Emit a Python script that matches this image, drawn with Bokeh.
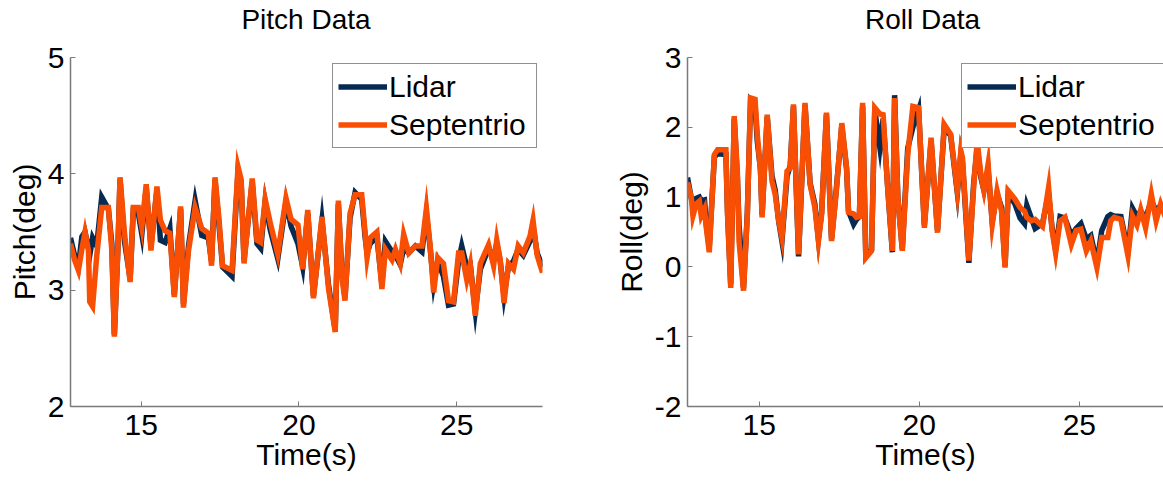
from bokeh.plotting import figure
from bokeh.layouts import row, column
from bokeh.models import Legend, LegendItem, FixedTicker, Range1d, Div
from bokeh.embed import file_html
from bokeh.resources import INLINE

# ---- data -------------------------------------------------------------
pitch_time = [12.76, 12.89, 13.01, 13.12, 13.22, 13.33, 13.37, 13.46, 13.59, 13.75,
              13.96, 14.07, 14.15, 14.26, 14.33, 14.47, 14.65, 14.75, 14.91, 15.02,
              15.16, 15.31, 15.50, 15.61, 15.76, 15.91, 16.05, 16.25, 16.34, 16.50,
              16.71, 16.92, 17.13, 17.23, 17.34, 17.46, 17.58, 17.88, 18.07, 18.17,
              18.26, 18.52, 18.67, 18.79, 18.93, 19.09, 19.33, 19.59, 19.75, 19.97,
              20.12, 20.28, 20.46, 20.73, 20.94, 21.15, 21.25, 21.36, 21.46, 21.62,
              21.78, 21.99, 22.10, 22.16, 22.26, 22.47, 22.63, 22.74, 22.95, 23.06,
              23.21, 23.32, 23.48, 23.69, 23.90, 24.04, 24.16, 24.27, 24.40, 24.58,
              24.74, 24.90, 25.06, 25.16, 25.32, 25.43, 25.59, 25.75, 26.01, 26.17,
              26.27, 26.38, 26.50, 26.64, 26.80, 26.95, 27.11, 27.32, 27.42, 27.55,
              27.72]
pitch_septentrio = [3.40, 3.26, 3.17, 3.35, 3.50, 3.34, 2.90, 2.86, 3.29, 3.71,
                    3.71, 3.34, 2.60, 3.34, 3.97, 3.49, 3.07, 3.71, 3.71, 3.54,
                    3.91, 3.34, 3.89, 3.60, 3.51, 3.49, 2.94, 3.72, 2.85, 3.34,
                    3.71, 3.53, 3.49, 3.21, 3.97, 3.63, 3.21, 3.17, 4.06, 3.95,
                    3.23, 3.96, 3.43, 3.41, 3.78, 3.58, 3.31, 3.79, 3.61, 3.56,
                    3.18, 3.69, 2.93, 3.63, 3.01, 2.64, 3.77, 3.12, 2.91, 3.66,
                    3.82, 3.82, 3.49, 3.28, 3.45, 3.50, 3.01, 3.35, 3.26, 3.35,
                    3.23, 3.48, 3.32, 3.38, 3.38, 3.70, 3.38, 2.98, 3.28, 3.23,
                    2.91, 2.90, 3.32, 3.32, 3.09, 3.22, 2.78, 3.23, 3.39, 3.21,
                    3.43, 3.26, 2.89, 3.23, 3.18, 3.38, 3.32, 3.46, 3.60, 3.30,
                    3.15]
pitch_lidar = [3.45, 3.30, 3.20, 3.46, 3.50, 3.36, 3.30, 3.45, 3.38, 3.80,
               3.70, 3.40, 2.62, 3.34, 3.95, 3.42, 3.10, 3.68, 3.66, 3.48,
               3.88, 3.38, 3.86, 3.43, 3.41, 3.53, 2.96, 3.70, 2.88, 3.38,
               3.77, 3.47, 3.45, 3.25, 3.95, 3.58, 3.20, 3.12, 4.02, 3.92,
               3.26, 3.93, 3.40, 3.36, 3.76, 3.52, 3.27, 3.76, 3.55, 3.40,
               3.20, 3.66, 2.95, 3.60, 3.04, 2.66, 3.74, 3.15, 2.94, 3.62,
               3.84, 3.78, 3.45, 3.32, 3.40, 3.46, 3.05, 3.42, 3.33, 3.30,
               3.22, 3.36, 3.32, 3.38, 3.33, 3.66, 3.36, 3.05, 3.25, 3.12,
               2.87, 2.88, 3.25, 3.38, 3.20, 3.22, 2.82, 3.18, 3.36, 3.28,
               3.40, 3.25, 2.95, 3.20, 3.25, 3.35, 3.30, 3.42, 3.55, 3.32,
               3.20]

roll_time = [12.76, 12.88, 12.93, 13.03, 13.13, 13.19, 13.29, 13.35, 13.44, 13.60,
             13.70, 13.96, 14.01, 14.11, 14.22, 14.32, 14.37, 14.51, 14.63, 14.73,
             14.87, 14.94, 15.04, 15.09, 15.25, 15.40, 15.50, 15.61, 15.71, 15.87,
             15.97, 16.07, 16.23, 16.43, 16.59, 16.74, 16.85, 16.95, 17.10, 17.26,
             17.41, 17.58, 17.73, 17.79, 17.95, 18.04, 18.13, 18.23, 18.33, 18.51,
             18.61, 18.77, 18.87, 19.02, 19.16, 19.23, 19.33, 19.47, 19.64, 19.80,
             19.98, 20.16, 20.37, 20.57, 20.78, 20.98, 21.19, 21.30, 21.35, 21.55,
             21.70, 21.81, 21.93, 22.02, 22.15, 22.28, 22.43, 22.57, 22.68, 22.78,
             22.99, 23.15, 23.29, 23.36, 23.50, 23.62, 23.85, 24.04, 24.15, 24.26,
             24.40, 24.55, 24.75, 24.90, 25.05, 25.22, 25.36, 25.55, 25.70, 25.89,
             25.98, 26.09, 26.30, 26.52, 26.66, 26.80, 26.92, 27.07, 27.25, 27.40,
             27.54, 27.70]
roll_septentrio = [1.21, 0.99, 0.73, 0.90, 0.94, 0.73, 0.83, 0.55, 0.21, 1.61,
                   1.68, 1.68, 0.75, -0.30, 2.16, 1.33, 0.37, -0.34, 0.75, 2.42,
                   2.40, 1.90, 1.37, 0.71, 2.18, 1.23, 1.04, 0.66, 0.42, 1.37,
                   1.42, 2.33, 0.18, 2.35, 1.18, 0.85, 0.37, 0.75, 2.21, 0.37,
                   1.09, 2.06, 1.42, 0.78, 0.76, 0.71, 0.72, 2.35, 0.13, 0.23,
                   2.28, 2.19, 2.18, 1.09, 0.23, 2.42, 0.99, 0.23, 1.61, 2.30,
                   2.28, 0.56, 1.85, 0.49, 2.04, 1.90, 1.09, 1.66, 1.56, 0.09,
                   1.15, 1.80, 1.30, 1.09, 1.47, 0.61, 1.09, 0.80, -0.01, 1.09,
                   0.97, 0.85, 0.80, 0.71, 0.66, 0.68, 0.58, 1.14, 0.52, 0.20,
                   0.66, 0.71, 0.32, 0.52, 0.54, 0.23, 0.37, -0.01, 0.42, 0.42,
                   0.66, 0.71, 0.68, 0.16, 0.73, 0.60, 0.82, 0.56, 1.04, 0.66,
                   0.90, 0.70]
roll_lidar = [1.28, 0.98, 0.90, 0.98, 1.00, 0.95, 0.96, 0.60, 0.28, 1.58,
              1.62, 1.61, 0.80, -0.25, 2.12, 1.25, 0.61, -0.30, 0.78, 2.38,
              2.30, 1.80, 1.40, 0.75, 2.15, 1.30, 1.10, 0.65, 0.37, 1.30,
              1.45, 2.30, 0.15, 2.32, 1.20, 0.90, 0.40, 0.78, 2.18, 0.40,
              1.12, 2.02, 1.40, 0.80, 0.61, 0.68, 0.72, 2.30, 0.15, 0.25,
              2.25, 1.71, 2.12, 1.10, 0.21, 2.46, 1.00, 0.26, 1.70, 2.00,
              2.25, 0.60, 1.80, 0.52, 2.00, 1.88, 1.06, 1.62, 1.50, 0.06,
              1.20, 1.71, 1.27, 1.10, 1.40, 0.65, 1.05, 0.85, 0.02, 1.05,
              0.90, 0.70, 0.62, 0.88, 0.70, 0.55, 0.62, 1.05, 0.55, 0.25,
              0.72, 0.70, 0.45, 0.55, 0.62, 0.40, 0.45, 0.05, 0.52, 0.72,
              0.75, 0.73, 0.72, 0.22, 0.84, 0.72, 0.80, 0.70, 0.95, 0.80,
              0.88, 0.75]

x_ticks = [15, 20, 25]
pitch_ticks = [2, 3, 4, 5]
roll_ticks = [-2, -1, 0, 1, 2, 3]

LIDAR_COLOR = "#062A52"
SEPT_COLOR = "#F84F04"
FONT = "Liberation Sans"
AXIS_GREY = "#7a7a7a"
TITLE_H = 40
FIG_H = 481 - TITLE_H


def title_div(text, width, pad_left, frame_w):
    # heading strip centred over the plot frame below it
    html = ('<div style="box-sizing:border-box;margin:0;padding:6px 0 0 %dpx;width:%dpx;'
            'font-family:\'Liberation Sans\',Arial,sans-serif;font-size:28px;'
            'line-height:28px;text-align:center;color:black;">%s</div>'
            % (pad_left, pad_left + frame_w, text))
    return Div(text=html, width=width, height=TITLE_H, margin=0)


def make_panel(ylabel, t, lidar, sept, y_range, y_ticks, x_end,
               width, border_left, border_right, legend_xy):
    p = figure(width=width, height=FIG_H, output_backend="svg", toolbar_location=None,
               x_range=Range1d(12.76, x_end), y_range=Range1d(*y_range),
               min_border_left=border_left, min_border_right=border_right,
               min_border_top=57 - TITLE_H, min_border_bottom=75,
               background_fill_color="white", border_fill_color="white", margin=0)
    p.outline_line_color = None
    p.grid.visible = False

    for ax in (p.xaxis[0], p.yaxis[0]):
        ax.axis_line_color = AXIS_GREY
        ax.axis_line_width = 1.5
        ax.major_tick_line_color = AXIS_GREY
        ax.major_tick_in = 5
        ax.major_tick_out = 0
        ax.minor_tick_line_color = None
        ax.major_label_text_font = FONT
        ax.major_label_text_font_size = "30px"
        ax.major_label_text_color = "black"
        ax.axis_label_text_font = FONT
        ax.axis_label_text_font_size = "30px"
        ax.axis_label_text_font_style = "normal"
        ax.axis_label_text_color = "black"

    p.xaxis[0].ticker = FixedTicker(ticks=x_ticks)
    p.xaxis[0].axis_label = "Time(s)"
    p.xaxis[0].major_label_standoff = 8
    p.xaxis[0].axis_label_standoff = 0
    p.yaxis[0].ticker = FixedTicker(ticks=y_ticks)
    # plain hyphen for negative tick labels
    p.yaxis[0].major_label_overrides = {v: str(v) for v in y_ticks}
    p.yaxis[0].axis_label = ylabel
    p.yaxis[0].major_label_standoff = 6
    p.yaxis[0].axis_label_standoff = 4

    r_lidar = p.line(t, lidar, line_color=LIDAR_COLOR, line_width=5.5,
                     line_join="miter")
    r_sept = p.line(t, sept, line_color=SEPT_COLOR, line_width=5.5,
                    line_join="miter")

    legend = Legend(items=[LegendItem(label="Lidar", renderers=[r_lidar]),
                           LegendItem(label="Septentrio", renderers=[r_sept])],
                    location=legend_xy)
    legend.label_text_font = FONT
    legend.label_text_font_size = "30px"
    legend.label_text_color = "black"
    legend.glyph_width = 49
    legend.glyph_height = 35
    legend.label_height = 35
    legend.label_width = 142
    legend.label_standoff = 2
    legend.spacing = 3
    legend.padding = 5
    legend.margin = 0
    legend.border_line_color = "#222222"
    legend.border_line_width = 1.2
    legend.background_fill_color = "white"
    legend.background_fill_alpha = 1.0
    p.add_layout(legend)
    return p


left = make_panel("Pitch(deg)", pitch_time, pitch_lidar, pitch_septentrio,
                  (2, 5), pitch_ticks, 27.72, 611, 70, 69, (262, 258))
right = make_panel("Roll(deg)", roll_time, roll_lidar, roll_septentrio,
                   (-2, 3), roll_ticks, 27.63, 552, 71, 0, (274, 258))

layout = column(row(title_div("Pitch Data", 611, 70, 472),
                    title_div("Roll Data", 552, 71, 481), spacing=0),
                row(left, right, spacing=0), spacing=0)
open("out.html", "w").write(file_html(layout, INLINE))
